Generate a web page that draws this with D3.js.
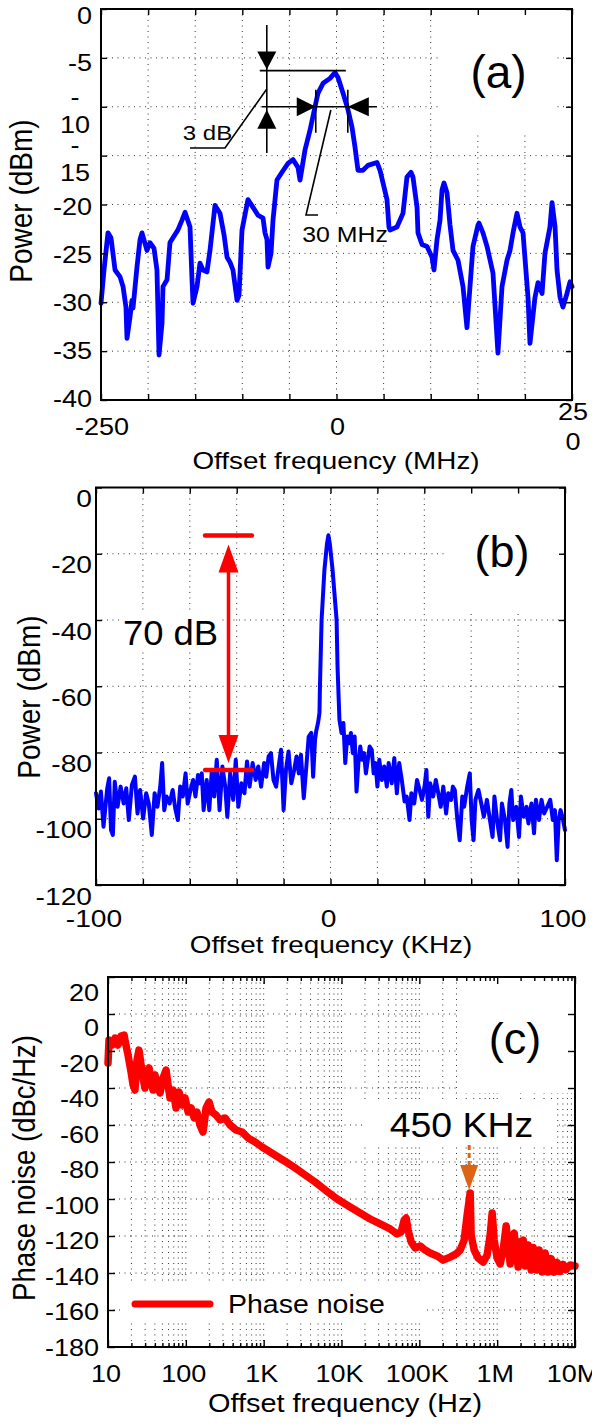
<!DOCTYPE html>
<html><head><meta charset="utf-8">
<script src="https://cdn.jsdelivr.net/npm/d3@7"></script>
<style>
body{margin:0;background:#fff}
svg{display:block;background:#fff}
text{font-family:"Liberation Sans",Arial,Helvetica,sans-serif;fill:#000}
.grid{stroke:#333;stroke-width:1;stroke-dasharray:1,4.5;fill:none}
.tk line{stroke:#000;stroke-width:1.4}
</style></head>
<body><svg id="chart" width="592" height="1427"></svg>
<script>
// ---------------- DATA ----------------
// (a) optical spectrum, offset frequency (MHz) vs power (dBm)
const aTrace = [[-250.0,-30.1],[-246.8,-26.7],[-242.6,-22.9],[-239.4,-23.4],[-235.1,-26.7],[-229.8,-27.4],[-226.6,-28.4],[-223.5,-30.5],[-222.4,-33.7],[-219.2,-31.5],[-217.1,-29.8],[-216.0,-30.6],[-211.8,-26.4],[-208.6,-23.6],[-206.5,-22.9],[-201.2,-24.7],[-198.0,-23.9],[-193.7,-24.5],[-190.6,-26.7],[-188.4,-35.4],[-185.2,-32.1],[-184.2,-28.4],[-179.9,-27.7],[-176.8,-23.9],[-173.6,-23.4],[-168.3,-22.6],[-164.0,-21.6],[-160.8,-20.8],[-155.5,-22.3],[-153.4,-27.7],[-152.3,-30.1],[-148.1,-28.4],[-144.9,-26.0],[-141.7,-26.7],[-137.5,-26.9],[-134.3,-24.7],[-129.0,-20.1],[-123.7,-20.9],[-119.4,-23.1],[-116.2,-25.4],[-113.1,-25.9],[-109.9,-26.7],[-105.6,-29.8],[-103.5,-29.3],[-100.3,-22.6],[-94.0,-19.5],[-88.6,-20.3],[-83.3,-21.1],[-78.0,-21.4],[-75.9,-22.9],[-73.8,-23.6],[-72.7,-26.4],[-69.5,-25.0],[-67.4,-21.6],[-63.2,-17.5],[-57.9,-16.7],[-51.5,-15.8],[-46.2,-15.4],[-40.9,-16.2],[-38.7,-17.5],[-33.4,-14.4],[-28.1,-12.4],[-22.8,-10.0],[-19.6,-8.6],[-14.3,-7.6],[-6.9,-7.1],[-1.6,-6.5],[1.6,-7.0],[6.9,-8.6],[12.2,-10.3],[16.5,-12.1],[19.6,-14.1],[22.8,-16.5],[28.1,-16.5],[33.4,-16.0],[43.0,-15.7],[46.2,-16.5],[53.6,-19.5],[55.7,-22.3],[56.8,-22.6],[64.2,-22.3],[70.6,-20.9],[74.8,-17.2],[79.1,-16.7],[81.2,-17.2],[85.5,-20.3],[86.5,-22.9],[90.8,-24.1],[96.1,-24.3],[101.4,-25.4],[103.5,-26.7],[106.7,-23.6],[109.9,-21.6],[112.0,-18.5],[114.1,-17.8],[117.3,-18.8],[120.5,-22.1],[123.7,-24.7],[129.0,-25.7],[134.3,-28.4],[138.5,-32.6],[141.7,-28.4],[144.9,-24.3],[150.2,-22.1],[151.3,-21.9],[155.5,-22.9],[159.8,-24.3],[166.1,-27.0],[171.4,-35.2],[175.7,-28.4],[181.0,-25.7],[184.2,-24.7],[187.4,-22.9],[191.6,-20.9],[194.8,-22.3],[198.0,-22.9],[203.3,-29.5],[205.4,-34.2],[210.7,-29.5],[213.9,-28.0],[218.2,-29.1],[221.3,-25.0],[226.6,-22.3],[228.8,-19.8],[232.0,-22.3],[234.1,-26.7],[237.3,-29.5],[240.4,-30.5],[244.7,-29.1],[247.9,-27.9],[250.0,-28.4]];
const aXTicks = [-250,-200,-150,-100,-50,0,50,100,150,200,250];
const aXLabels = [[-250,"-250"],[0,"0"],[250,"25\n0"]];
const aYTicks = [0,-5,-10,-15,-20,-25,-30,-35,-40];
const aYLabels = ["0","-5","-\n10","-\n15","-20","-25","-30","-35","-40"];
// annotation levels (dBm) and frequencies (MHz) of panel (a)
const aPeakLevel = -6.3, aHalfLevel = -10, aHalfLeft = -22, aHalfRight = 12, aMarkerFreq = -74;

// (b) RF beat spectrum, offset frequency (kHz) vs power (dBm)
const bTrace = [[-100.0,-92.3],[-98.9,-96.9],[-97.9,-91.8],[-96.8,-102.4],[-95.2,-90.8],[-94.4,-87.8],[-93.6,-103.4],[-92.8,-104.9],[-92.0,-88.8],[-90.8,-96.4],[-89.5,-90.3],[-88.2,-95.4],[-87.1,-90.8],[-86.0,-100.4],[-84.7,-89.8],[-83.4,-87.3],[-82.3,-98.4],[-81.2,-91.3],[-79.9,-99.9],[-78.6,-92.3],[-77.5,-95.4],[-76.2,-104.9],[-75.0,-92.3],[-73.8,-96.4],[-72.6,-90.3],[-71.8,-83.2],[-70.9,-97.4],[-69.9,-93.3],[-68.6,-95.4],[-67.3,-91.3],[-66.2,-96.9],[-65.1,-100.4],[-64.1,-90.3],[-63.0,-93.3],[-61.8,-86.3],[-60.9,-95.4],[-59.7,-91.3],[-58.6,-88.3],[-57.6,-93.3],[-56.5,-86.8],[-55.7,-89.3],[-54.9,-86.3],[-54.1,-97.4],[-52.8,-88.3],[-51.7,-97.4],[-50.6,-85.3],[-49.6,-93.3],[-48.5,-82.2],[-47.3,-97.4],[-46.1,-84.2],[-44.9,-90.3],[-44.0,-99.4],[-42.8,-86.3],[-41.5,-94.3],[-40.4,-82.2],[-39.3,-96.4],[-38.0,-89.3],[-36.7,-92.3],[-35.6,-82.7],[-34.5,-90.3],[-33.2,-83.2],[-31.9,-88.3],[-30.8,-84.2],[-29.6,-90.3],[-28.3,-83.2],[-27.4,-87.3],[-26.4,-81.2],[-25.4,-80.2],[-24.3,-88.3],[-23.2,-90.3],[-21.9,-83.2],[-21.1,-79.2],[-20.0,-97.4],[-19.0,-85.3],[-17.9,-79.7],[-16.7,-89.3],[-15.5,-85.3],[-14.5,-81.2],[-13.5,-86.3],[-12.6,-80.7],[-11.4,-93.8],[-10.3,-84.2],[-9.3,-75.2],[-8.2,-74.1],[-7.4,-87.3],[-6.6,-76.2],[-6.1,-73.6],[-5.3,-71],[-4.7,-68],[-4.5,-60],[-3.8,-40],[-2.6,-25],[-1.5,-17],[-0.9,-14.4],[-0.3,-17],[0.9,-25],[2.6,-40],[3.0,-54],[3.4,-62],[3.8,-70],[4.7,-74.1],[5.5,-71.1],[6.3,-83.2],[7.1,-75.2],[7.9,-77.2],[8.7,-74.1],[9.5,-80.2],[10.3,-75.2],[11.1,-91.8],[11.9,-83.2],[12.7,-78.2],[13.5,-82.2],[14.3,-80.2],[15.1,-86.3],[15.9,-82.2],[16.7,-78.2],[17.6,-79.2],[18.4,-86.3],[19.2,-83.2],[20.0,-90.3],[20.8,-82.2],[21.9,-88.3],[22.9,-84.2],[24.0,-90.3],[24.8,-83.2],[26.1,-89.3],[27.2,-81.7],[28.3,-92.3],[29.3,-83.2],[30.4,-88.3],[31.6,-94.8],[32.5,-93.3],[33.7,-100.4],[34.5,-92.3],[35.7,-95.4],[36.9,-88.3],[38.0,-91.3],[39.0,-94.3],[40.1,-90.3],[40.9,-85.3],[41.7,-99.4],[42.5,-89.3],[43.8,-93.3],[44.9,-88.3],[45.7,-91.3],[47.0,-96.4],[48.1,-90.3],[49.3,-98.4],[50.2,-92.3],[51.4,-94.3],[52.2,-90.3],[53.0,-91.3],[54.1,-100.4],[55.1,-106.5],[56.2,-93.3],[57.0,-96.4],[58.3,-90.3],[59.4,-86.3],[60.2,-100.4],[61.0,-106.5],[61.8,-94.3],[63.1,-91.3],[64.3,-95.4],[65.4,-99.4],[66.7,-94.3],[68.0,-100.4],[69.1,-105.5],[69.9,-93.3],[71.2,-101.4],[72.3,-106.5],[73.1,-95.4],[74.4,-100.4],[75.5,-108.5],[76.3,-95.4],[77.1,-91.3],[77.9,-100.4],[79.2,-96.4],[80.4,-105.5],[81.2,-93.3],[82.4,-99.4],[83.6,-96.4],[84.4,-101.4],[85.7,-95.4],[86.8,-104.4],[87.6,-94.3],[88.9,-100.4],[90.0,-94.3],[91.1,-98.4],[92.4,-96.4],[93.7,-94.3],[94.8,-100.4],[95.7,-97.4],[96.5,-112.5],[97.3,-100.4],[98.1,-97.4],[98.9,-99.4],[100,-103.4]];
const bXTicks = [-100,-80,-60,-40,-20,0,20,40,60,80,100];
const bXLabels = [[-100,"-100"],[0,"0"],[100,"100"]];
const bYTicks = [0,-20,-40,-60,-80,-100,-120];
const bYLabels = ["0","-20","-40","-60","-80","-100","-120"];
// 70 dB marker: top level, bottom level (dBm), centre and half-width (kHz)
const bTop = -14.5, bBottom = -85.3, bMarkFreq = -43.5, bMarkHalf = 10;

// (c) phase noise, offset frequency (Hz) vs dBc/Hz
const cTrace = [[10,-26.5],[10.3,-14.1],[11.3,-16.8],[12.3,-13.0],[13.4,-16.8],[14.7,-11.9],[16.1,-11.4],[17.0,-16.8],[18.1,-22.2],[19.8,-31.4],[21.0,-38.4],[22.2,-41.1],[23.6,-24.9],[25.0,-19.5],[26.6,-27.6],[28.2,-34.6],[29.9,-40.0],[31.7,-31.4],[33.7,-29.2],[35.7,-35.7],[37.9,-41.1],[40.2,-33.0],[42.6,-37.3],[46.6,-42.7],[50.9,-34.6],[55.7,-30.3],[59.1,-38.4],[62.7,-45.4],[68.5,-41.1],[74.8,-50.8],[81.8,-42.2],[89.4,-49.2],[97.7,-45.4],[107,-53.0],[117,-50.8],[128,-56.2],[139,-53.0],[152,-60.0],[166,-63.8],[182,-50.8],[199,-47.6],[217,-53.0],[244,-54.6],[275,-57.3],[319,-56.2],[370,-60.0],[442,-62.7],[528,-63.8],[630,-67.0],[775,-69.2],[954,-71.9],[1209,-74.6],[1531,-77.3],[1941,-80.0],[2532,-83.2],[3405,-87.0],[4579,-90.8],[6157,-95.1],[8780,-100.0],[12900,-104.3],[17340,-107.6],[23320,-110.8],[31350,-113.5],[42140,-116.2],[51840,-118.9],[58350,-117.8],[63760,-111.4],[67680,-110.3],[71780,-116.8],[78470,-123.2],[88330,-126.5],[102400,-125.4],[118700,-127.6],[137600,-129.2],[169300,-130.8],[202300,-133.0],[248800,-131.4],[297200,-129.7],[334500,-127.6],[376500,-122.2],[411500,-108.6],[450000,-96.8],[463000,-119.5],[506300,-127.6],[570000,-131.9],[661000,-134.1],[743700,-130.3],[812800,-119.5],[862500,-107.6],[915300,-122.2],[1.0e6,-131.9],[1.093e6,-135.1],[1.194e6,-127.6],[1.305e6,-114.6],[1.385e6,-124.9],[1.469e6,-135.1],[1.559e6,-122.2],[1.654e6,-118.4],[1.755e6,-127.6],[1.862e6,-136.8],[1.976e6,-123.2],[2.159e6,-122.2],[2.291e6,-136.2],[2.503e6,-124.9],[2.735e6,-138.4],[2.902e6,-126.2],[3.171e6,-138.4],[3.466e6,-127.6],[3.787e6,-139.5],[4.140e6,-129.2],[4.524e6,-139.5],[4.944e6,-132.2],[5.402e6,-139.5],[5.905e6,-134.3],[6.453e6,-139.2],[7.052e6,-135.4],[7.708e6,-138.1],[8.678e6,-135.7],[1.0e7,-136.2]];
const cDecades = [10,100,1e3,1e4,1e5,1e6,1e7];
const cXLabels = ["10","100","1K","10K","100K","1M","10M"];
const cMinorMult = [2,3,4,5,6,7,8,9];
const cYTicks = [20,0,-20,-40,-60,-80,-100,-120,-140,-160,-180];
const cYLabels = ["20","0","-20","-40","-60","-80","-100","-120","-140","-160","-180"];
const cSpurFreq = 450000, cSpurLabel = "450 KHz";
const cLegend = "Phase noise";

// ---------------- DRAWING ----------------
const svg = d3.select("#chart");

function txt(g, x, y, s, o = {}) {
  const t = g.append("text")
    .attr("transform", `translate(${x},${y})` + (o.rot ? ` rotate(${o.rot})` : "") + ` scale(${o.sx || 1},${o.sy || 1})`)
    .attr("text-anchor", o.anchor || "middle")
    .style("font-size", (o.size || 22) + "px")
    .text(s);
  if (o.fill) t.style("fill", o.fill);
  return t;
}
function tri(g, tipX, tipY, dir, len, half, fill) {
  let p;
  if (dir === "down") p = [[tipX, tipY], [tipX - half, tipY - len], [tipX + half, tipY - len]];
  if (dir === "up") p = [[tipX, tipY], [tipX - half, tipY + len], [tipX + half, tipY + len]];
  if (dir === "right") p = [[tipX, tipY], [tipX - len, tipY - half], [tipX - len, tipY + half]];
  if (dir === "left") p = [[tipX, tipY], [tipX + len, tipY - half], [tipX + len, tipY + half]];
  g.append("path").attr("d", d3.line()(p) + "Z").attr("fill", fill);
}
function seg(g, pts, color, w, extra) {
  const p = g.append("path").attr("d", d3.line()(pts)).attr("fill", "none")
    .attr("stroke", color).attr("stroke-width", w);
  if (extra) extra(p);
  return p;
}
function frameAndTicks(g, x, y, xt, yt, L, R, T, B, size) {
  const s = size || 6;
  const fmt = () => "";
  g.append("g").attr("class", "tk").attr("transform", `translate(0,${B})`)
    .call(d3.axisBottom(x).tickValues(xt).tickSizeInner(-s).tickSizeOuter(0).tickFormat(fmt)).call(a => a.select(".domain").remove());
  g.append("g").attr("class", "tk").attr("transform", `translate(0,${T})`)
    .call(d3.axisTop(x).tickValues(xt).tickSizeInner(-s).tickSizeOuter(0).tickFormat(fmt)).call(a => a.select(".domain").remove());
  g.append("g").attr("class", "tk").attr("transform", `translate(${L},0)`)
    .call(d3.axisLeft(y).tickValues(yt).tickSizeInner(-s).tickSizeOuter(0).tickFormat(fmt)).call(a => a.select(".domain").remove());
  g.append("g").attr("class", "tk").attr("transform", `translate(${R},0)`)
    .call(d3.axisRight(y).tickValues(yt).tickSizeInner(-s).tickSizeOuter(0).tickFormat(fmt)).call(a => a.select(".domain").remove());
  g.selectAll(".tk text").remove();
  g.append("rect").attr("x", L).attr("y", T).attr("width", R - L).attr("height", B - T)
    .attr("fill", "none").attr("stroke", "#000").attr("stroke-width", 2);
}
function grid(g, x, y, xv, yv, L, R, T, B) {
  g.append("g").selectAll("line").data(xv).join("line").attr("class", "grid")
    .attr("x1", d => x(d)).attr("x2", d => x(d)).attr("y1", T).attr("y2", B);
  g.append("g").selectAll("line").data(yv).join("line").attr("class", "grid")
    .attr("x1", L).attr("x2", R).attr("y1", d => y(d)).attr("y2", d => y(d));
}
function blank(g, x0, y0, x1, y1) {
  g.append("rect").attr("x", x0).attr("y", y0).attr("width", x1 - x0).attr("height", y1 - y0).attr("fill", "#fff");
}
const TS = 23.5, TSX = 1.15;

// ---------- Panel (a) ----------
{
  const g = svg.append("g");
  const L = 101, R = 572, T = 9, B = 400;
  const x = d3.scaleLinear([-250, 250], [L, R]);
  const y = d3.scaleLinear([0, -40], [T, B]);
  const yLab = d3.scaleLinear([0, -40], [15, 398]);
  grid(g, x, y, aXTicks.slice(1, -1), aYTicks.slice(1, -1), L, R, T, B);
  blank(g, 440, T + 1, 557, 133);
  blank(g, 181, 122, 234, 143);
  blank(g, 300, 218, 391, 245);
  g.append("path").datum(aTrace).attr("fill", "none").attr("stroke", "#0000ff")
    .attr("stroke-width", 4.8).attr("stroke-linejoin", "round").attr("stroke-linecap", "round")
    .attr("d", d3.line().x(d => x(d[0])).y(d => y(d[1])));
  // annotations
  const k = "#000";
  const xm = x(aMarkerFreq), yp = y(aPeakLevel), yh = y(aHalfLevel);
  seg(g, [[xm, 25], [xm, 153]], k, 1.6);
  tri(g, xm, yp - 1, "down", 18, 9.5, k);
  tri(g, xm, yh + 3, "up", 19, 9.5, k);
  seg(g, [[xm - 7, yp], [x(aHalfRight) - 2, yp]], k, 1.6);
  seg(g, [[xm - 5, yh], [x(aHalfRight) + 29, yh]], k, 1.6);
  tri(g, x(aHalfLeft), yh, "right", 19, 9.5, k);
  tri(g, x(aHalfRight), yh, "left", 21, 9.5, k);
  seg(g, [[x(aHalfLeft), yh - 17], [x(aHalfLeft), yh + 26]], k, 1.6);
  seg(g, [[x(aHalfRight), yh - 17], [x(aHalfRight), yh + 26]], k, 1.6);
  seg(g, [[xm, 89], [225, 148], [190, 148]], k, 1.6);
  seg(g, [[x(-6), 110], [306, 215], [318, 215]], k, 1.6);
  txt(g, 207.5, 140, "3 dB", {size: 20, sx: 1.2});
  txt(g, 345, 242, "30 MHz", {size: 22, sx: 1.13});
  txt(g, 498.5, 88, "(a)", {size: 46});
  frameAndTicks(g, x, y, aXTicks, aYTicks, L, R, T, B, 6);
  // tick labels
  aYTicks.forEach((v, i) => {
    const s = aYLabels[i].split("\n");
    const cy = yLab(v);
    if (s.length === 1) {
      txt(g, 92, cy + 8.5, s[0], {size: TS, sx: TSX, anchor: "end"});
    } else {
      const t2 = txt(g, 90, cy + 13.5 + 8.5, s[1], {size: TS, sx: TSX, anchor: "end"});
      const w = t2.node().getBBox().width * TSX;
      txt(g, 90 - w / 2, cy - 14 + 8.5, s[0], {size: TS, sx: TSX});
    }
  });
  aXLabels.forEach(([v, s]) => {
    const parts = s.split("\n");
    if (parts.length === 1) txt(g, x(v) + 1, 435, s, {size: TS, sx: TSX});
    else { txt(g, x(v) + 1, 420, parts[0], {size: TS, sx: TSX}); txt(g, x(v) + 1, 450, parts[1], {size: TS, sx: TSX}); }
  });
  txt(g, 336, 469, "Offset frequency (MHz)", {size: 24, sx: 1.16});
  txt(g, 32, 201, "Power (dBm)", {size: 28, rot: -90, sy: 1.15});
}

// ---------- Panel (b) ----------
{
  const g = svg.append("g");
  const L = 96, R = 565, T = 487.5, B = 885;
  const x = d3.scaleLinear([-100, 100], [L, R]);
  const y = d3.scaleLinear([0, -120], [T, B]);
  grid(g, x, y, bXTicks.slice(1, -1), bYTicks.slice(1, -1), L, R, T, B);
  blank(g, 447, T + 1, 562, 613);
  blank(g, 120, 613, 222, 650);
  g.append("path").datum(bTrace).attr("fill", "none").attr("stroke", "#0000ff")
    .attr("stroke-width", 4).attr("stroke-linejoin", "round").attr("stroke-linecap", "round")
    .attr("d", d3.line().x(d => x(d[0])).y(d => y(d[1])));
  const red = "#ff0000";
  const xc = x(bMarkFreq), yt = y(bTop), yb = y(bBottom);
  seg(g, [[x(bMarkFreq - bMarkHalf), yt], [x(bMarkFreq + bMarkHalf), yt]], red, 4.5, p => p.attr("stroke-linecap", "round"));
  seg(g, [[x(bMarkFreq - bMarkHalf), yb], [x(bMarkFreq + bMarkHalf), yb]], red, 4.5, p => p.attr("stroke-linecap", "round"));
  seg(g, [[xc, yt + 30], [xc, yb - 30]], red, 3.5);
  tri(g, xc, yt + 9, "up", 28, 10, red);
  tri(g, xc, yb - 7, "down", 28, 10, red);
  txt(g, 170.5, 645, "70 dB", {size: 35, sx: 1.04});
  txt(g, 502, 567, "(b)", {size: 45});
  frameAndTicks(g, x, y, bXTicks, bYTicks, L, R, T, B, 6);
  bYTicks.forEach((v, i) => txt(g, 92, y(v) + 11 + 8.5, bYLabels[i], {size: 24.5, sx: TSX, anchor: "end"}));
  bXLabels.forEach(([v, s]) => txt(g, x(v) - 2, 927, s, {size: 24.5, sx: TSX}));
  txt(g, 331, 953, "Offset frequency (KHz)", {size: 24, sx: 1.16});
  txt(g, 40, 697, "Power (dBm)", {size: 28, rot: -90, sy: 1.15});
}

// ---------- Panel (c) ----------
{
  const g = svg.append("g");
  const L = 108, R = 575, T = 977, B = 1347;
  const x = d3.scaleLog([10, 1e7], [L, R]);
  const y = d3.scaleLinear([20, -180], [T, B]);
  const yLab = d3.scaleLinear([20, -180], [992, 1347]);
  const minors = [];
  cDecades.slice(0, -1).forEach(d => cMinorMult.forEach(m => minors.push(d * m)));
  const allX = minors.concat(cDecades.slice(1, -1)).sort((a, b) => a - b);
  grid(g, x, y, allX, cYTicks.slice(1, -1), L, R, T, B);
  blank(g, 457, T + 1, R - 1, 1093);
  blank(g, 362, 1099, 557, 1143);
  blank(g, 123, 1281, 427, 1321);
  g.append("path").datum(cTrace).attr("fill", "none").attr("stroke", "#ff0000")
    .attr("stroke-width", 7.5).attr("stroke-linejoin", "round").attr("stroke-linecap", "round")
    .attr("d", d3.line().x(d => x(d[0])).y(d => y(d[1])));
  // 450 KHz arrow
  const orange = "#dc6414";
  const xs = x(cSpurFreq) - 1;
  seg(g, [[xs, 1145], [xs, 1166]], orange, 3, p => p.attr("stroke-dasharray", "5,3"));
  tri(g, xs, 1190, "down", 25, 9, orange);
  txt(g, 461.5, 1137, cSpurLabel, {size: 35, sx: 1.07});
  txt(g, 515, 1054, "(c)", {size: 45});
  // legend
  seg(g, [[135, 1304], [210, 1304]], "#ff0000", 7, p => p.attr("stroke-linecap", "round"));
  txt(g, 228, 1313, cLegend, {size: 25, sx: 1.14, anchor: "start"});
  // ticks
  frameAndTicks(g, x, y, cDecades, cYTicks, L, R, T, B, 7);
  const fmt = () => "";
  g.append("g").attr("class", "tk").attr("transform", `translate(0,${B})`)
    .call(d3.axisBottom(x).tickValues(minors).tickSizeInner(-4).tickSizeOuter(0).tickFormat(fmt)).call(a => a.select(".domain").remove());
  g.append("g").attr("class", "tk").attr("transform", `translate(0,${T})`)
    .call(d3.axisTop(x).tickValues(minors).tickSizeInner(-4).tickSizeOuter(0).tickFormat(fmt)).call(a => a.select(".domain").remove());
  g.selectAll(".tk text").remove();
  cYTicks.forEach((v, i) => txt(g, 99, yLab(v) + 8.5, cYLabels[i], {size: TS, sx: TSX, anchor: "end"}));
  cDecades.forEach((v, i) => txt(g, x(v) - 2, 1382, cXLabels[i], {size: TS, sx: TSX}));
  txt(g, 345, 1412, "Offset frequency (Hz)", {size: 25, sx: 1.157});
  txt(g, 35, 1168, "Phase noise (dBc/Hz)", {size: 27.5, rot: -90, sy: 1.15});
}
</script></body></html>
